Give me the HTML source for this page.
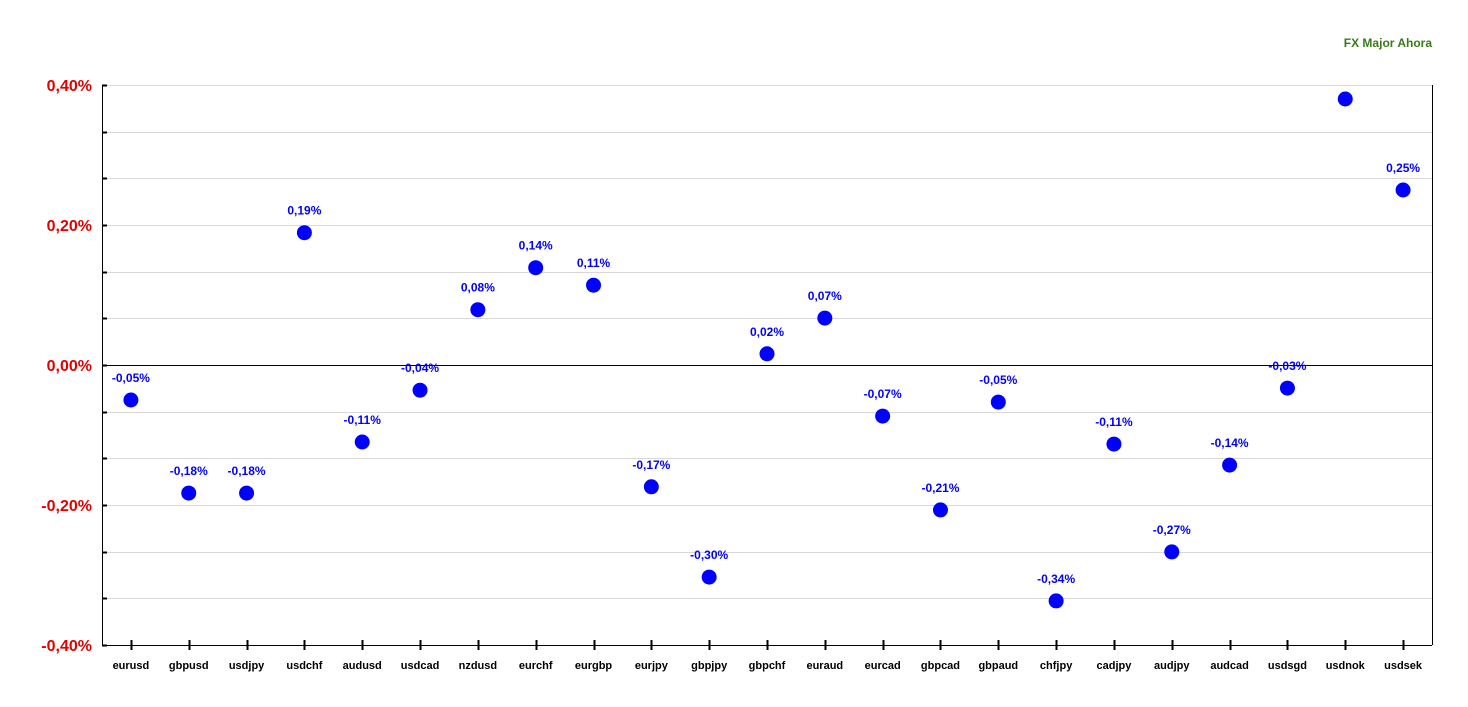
<!DOCTYPE html>
<html><head><meta charset="utf-8"><style>
body{margin:0;background:#fff;}
svg{display:block;font-family:"Liberation Sans",Arial,sans-serif;}
</style></head><body>
<svg id="chart" width="1468" height="707" viewBox="0 0 1468 707">
<text x="1432" y="47" text-anchor="end" font-size="12" font-weight="bold" fill="#3a7a1a">FX Major Ahora</text>
<g id="grid"></g><g id="axes"></g><g id="marks"></g>
</svg>
<script>
const categories=["eurusd","gbpusd","usdjpy","usdchf","audusd","usdcad","nzdusd","eurchf","eurgbp","eurjpy","gbpjpy","gbpchf","euraud","eurcad","gbpcad","gbpaud","chfjpy","cadjpy","audjpy","audcad","usdsgd","usdnok","usdsek"];
const values=[-0.05,-0.183,-0.183,0.189,-0.11,-0.036,0.079,0.139,0.114,-0.174,-0.303,0.016,0.067,-0.073,-0.207,-0.053,-0.337,-0.113,-0.267,-0.143,-0.033,0.38,0.25];
const labels=["-0,05%","-0,18%","-0,18%","0,19%","-0,11%","-0,04%","0,08%","0,14%","0,11%","-0,17%","-0,30%","0,02%","0,07%","-0,07%","-0,21%","-0,05%","-0,34%","-0,11%","-0,27%","-0,14%","-0,03%","","0,25%"];
const yTicks=[0.4,0.2,0,-0.2,-0.4];
const yTickLabels=["0,40%","0,20%","0,00%","-0,20%","-0,40%"];
const L=102,R=1432,T=85,B=645,yMin=-0.4,yMax=0.4;
const ns="http://www.w3.org/2000/svg";
const y=v=>B-(v-yMin)/(yMax-yMin)*(B-T);
const bw=(R-L)/categories.length;
const x=i=>L+bw*(i+0.5);
function mk(tag,attrs,parent,txt){const e=document.createElementNS(ns,tag);for(const k in attrs)e.setAttribute(k,attrs[k]);if(txt!==undefined)e.textContent=txt;document.getElementById(parent).appendChild(e);return e;}
for(let k=0;k<=12;k++){const v=yMin+k*(yMax-yMin)/12;const yy=Math.round(y(v))+0.5;
 const g=mk('line',{x1:L,x2:R,y1:yy,y2:yy,stroke:Math.abs(v)<1e-9?'#000':'#d8d8d8','stroke-width':1},'grid');
 
 
 const t=mk('line',{x1:L,x2:L+5,y1:yy,y2:yy,stroke:'#000','stroke-width':2},'axes');
 
 
}
mk('line',{x1:L+0.5,x2:L+0.5,y1:T,y2:B,stroke:'#000'},'axes');
mk('line',{x1:R+0.5,x2:R+0.5,y1:T,y2:B,stroke:'#000'},'axes');
mk('line',{x1:L,x2:R,y1:B+0.5,y2:B+0.5,stroke:'#000'},'axes');
yTicks.forEach((v,i)=>{const t=mk('text',{x:92,y:y(v)+6,'text-anchor':'end','font-size':16,'font-weight':'bold',fill:'#e00000'},'axes',yTickLabels[i]);
 
 });
categories.forEach((c,i)=>{
 const tk=mk('line',{x1:Math.round(x(i))+0.5,x2:Math.round(x(i))+0.5,y1:B-5,y2:B+5,stroke:'#000','stroke-width':2},'axes');
 
 
 const t=mk('text',{x:x(i),y:B+24,'text-anchor':'middle','font-size':11,'font-weight':'bold',fill:'#000'},'axes',c);
 
 
 const d=mk('circle',{cx:x(i),cy:y(values[i]),r:7.5,fill:'#0000ff'},'marks');
 
 
 if(labels[i]){const l=mk('text',{x:x(i),y:y(values[i])-18,'text-anchor':'middle','font-size':12,'font-weight':'bold',fill:'#0000ff'},'marks',labels[i]);
 
 }
});
</script>
</body></html>
